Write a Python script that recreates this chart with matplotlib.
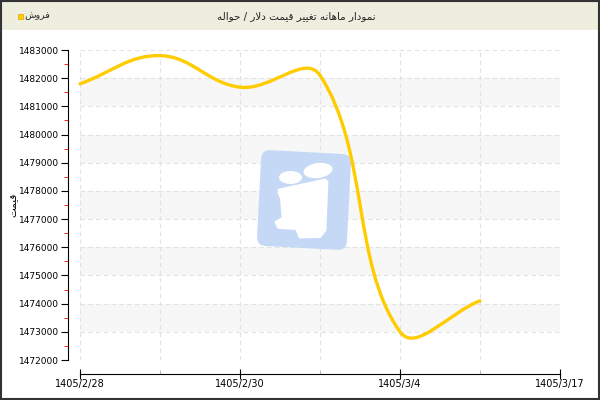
import numpy as np
import matplotlib
matplotlib.use('Agg')
import matplotlib.pyplot as plt
from matplotlib.path import Path
from matplotlib.patches import PathPatch, Rectangle, FancyBboxPatch, Ellipse, Polygon
from matplotlib.transforms import Affine2D
from matplotlib.ticker import MultipleLocator, FixedLocator

# داده ها
dates = ['1405/2/28', '1405/2/29', '1405/2/30', '1405/3/1', '1405/3/4', '1405/3/10', '1405/3/17']
tick_labels = ['1405/2/28', '1405/2/30', '1405/3/4', '1405/3/17']
sell = [1481800, 1482800, 1481680, 1482100, 1473000, 1474100]

title = 'نمودار ماهانه تغییر قیمت دلار / حواله'
legend_label = 'فروش'
y_label = 'قیمت'

line_color = '#FFCC00'

# شکل دادن حروف فارسی (matplotlib خودش حروف را به هم نمی چسباند)
forms = {
    'ا': ('\uFE8D', '\uFE8E'),
    'د': ('\uFEA9', '\uFEAA'),
    'ر': ('\uFEAD', '\uFEAE'),
    'و': ('\uFEED', '\uFEEE'),
    'ن': ('\uFEE5', '\uFEE6', '\uFEE7', '\uFEE8'),
    'م': ('\uFEE1', '\uFEE2', '\uFEE3', '\uFEE4'),
    'ه': ('\uFEE9', '\uFEEA', '\uFEEB', '\uFEEC'),
    'ت': ('\uFE95', '\uFE96', '\uFE97', '\uFE98'),
    'غ': ('\uFECD', '\uFECE', '\uFECF', '\uFED0'),
    'ی': ('\uFBFC', '\uFBFD', '\uFBFE', '\uFBFF'),
    'ق': ('\uFED5', '\uFED6', '\uFED7', '\uFED8'),
    'ل': ('\uFEDD', '\uFEDE', '\uFEDF', '\uFEE0'),
    'ح': ('\uFEA1', '\uFEA2', '\uFEA3', '\uFEA4'),
    'ف': ('\uFED1', '\uFED2', '\uFED3', '\uFED4'),
    'ش': ('\uFEB5', '\uFEB6', '\uFEB7', '\uFEB8'),
}


def fa(text):
    out = []
    i = 0
    while i < len(text):
        c = text[i]
        if c not in forms:
            out.append(c)
            i += 1
            continue
        prev = text[i - 1] if i > 0 else ''
        join_prev = prev in forms and len(forms[prev]) == 4
        if c == 'ل' and i + 1 < len(text) and text[i + 1] == 'ا':
            out.append('\uFEFC' if join_prev else '\uFEFB')
            i += 2
            continue
        nxt = text[i + 1] if i + 1 < len(text) else ''
        join_next = len(forms[c]) == 4 and nxt in forms
        f = forms[c]
        if join_prev and join_next:
            out.append(f[3])
        elif join_prev:
            out.append(f[1])
        elif join_next:
            out.append(f[2])
        else:
            out.append(f[0])
        i += 1
    return ''.join(out)[::-1]


plt.rcParams['font.family'] = ['DejaVu Sans']

fig = plt.figure(figsize=(6, 4), dpi=100)
ax = fig.add_axes([80 / 600, 40 / 400, 480 / 600, 310 / 400])

# نوار عنوان و قاب
fig.patches.append(Rectangle((0, 1 - 30 / 400), 1, 30 / 400, transform=fig.transFigure,
                             fc='#EEEEDF', ec='none', zorder=0))
fig.patches.append(Rectangle((0.001, 0.002), 0.997, 0.996, transform=fig.transFigure,
                             fc='none', ec='#333333', lw=1.5, zorder=10))
fig.text(296 / 600, 1 - 16 / 400, fa(title), ha='center', va='center', fontsize=7.5, color='#222222')
fig.patches.append(Rectangle((17.5 / 600, 1 - 18.5 / 400), 5 / 600, 5 / 400, transform=fig.transFigure,
                             fc=line_color, ec='#E0A800', lw=0.5))
fig.text(24 / 600, 1 - 16 / 400, fa(legend_label), ha='left', va='center', fontsize=6.8, color='#222222')
fig.text(13 / 600, 1 - 205 / 400, fa(y_label), ha='center', va='center', rotation=90, fontsize=7.5)

ymin, ymax = 1472000, 1483000
xmin, xmax = 0, len(dates) - 1
ax.set_xlim(xmin, xmax)
ax.set_ylim(ymin, ymax)

# نوارهای خاکستری
for b in range(ymin + 1000, ymax, 2000):
    ax.axhspan(b, b + 1000, color='#F7F7F7', lw=0, zorder=0)

ax.yaxis.set_major_locator(MultipleLocator(1000))
ax.yaxis.set_minor_locator(MultipleLocator(500))
ax.xaxis.set_major_locator(FixedLocator(range(0, len(dates), 2)))
ax.xaxis.set_minor_locator(FixedLocator(range(1, len(dates), 2)))
ax.set_xticklabels(tick_labels)
ax.yaxis.set_major_formatter(matplotlib.ticker.FuncFormatter(lambda v, p: '%d' % v))

ax.grid(True, which='both', axis='x', color='#E2E2E2', ls=(0, (4, 3)), lw=0.8, zorder=0.5)
ax.grid(True, which='major', axis='y', color='#E2E2E2', ls=(0, (4, 3)), lw=0.8, zorder=0.5)
ax.set_axisbelow(True)

for s in ['top', 'right']:
    ax.spines[s].set_visible(False)
ax.spines['left'].set_position(('outward', 9))
ax.spines['bottom'].set_position(('outward', 10))
ax.tick_params(axis='y', which='major', direction='out', length=5, labelsize=6.5, pad=1)
ax.tick_params(axis='y', which='minor', direction='out', length=3, color='red')
ax.tick_params(axis='x', which='major', direction='inout', length=7, labelsize=7, pad=0)
ax.tick_params(axis='x', which='minor', direction='in', length=3, color='#AAAAAA')

# لوگوی محو وسط نمودار
pix = Affine2D().scale(1 / 600, -1 / 400).translate(0, 1) + fig.transFigure
rot = Affine2D().rotate_deg_around(304, 200, 3)
logo = FancyBboxPatch((259, 152), 90, 96, boxstyle='round,pad=0,rounding_size=9',
                      transform=rot + pix, fc='#C5D9F6', ec='none', zorder=1.5)
ax.add_patch(logo)
ax.add_patch(Ellipse((290.5, 177.5), 23, 13, transform=pix, fc='white', ec='none', zorder=1.6))
ax.add_patch(Ellipse((318, 170.5), 29, 15, angle=-8, transform=pix, fc='white', ec='none', zorder=1.6))
body = [(279, 190), (325, 180), (327, 182), (325, 230), (320, 236.5), (300, 237), (296.5, 228.5),
        (278.5, 227.5), (276, 222), (283, 218.5), (281.5, 198.5), (279, 193)]
ax.add_patch(Polygon(body, closed=True, transform=pix, fc='white', ec='white', lw=2,
                     joinstyle='round', zorder=1.6))

# خط منحنی (مثل spline در Chart.js با tension=0.4)
bb = ax.get_position()
W, H = bb.width * 600, bb.height * 400
xs = np.arange(len(sell), dtype=float)
ys = np.array(sell, dtype=float)
pts = np.column_stack([(xs - xmin) / (xmax - xmin) * W, (ys - ymin) / (ymax - ymin) * H])
t = 0.4
cp_prev, cp_next = [], []
for i in range(len(pts)):
    cur = pts[i]
    prv = pts[i - 1] if i > 0 else cur
    nxt = pts[i + 1] if i < len(pts) - 1 else cur
    d01 = np.hypot(*(cur - prv))
    d12 = np.hypot(*(nxt - cur))
    tot = d01 + d12
    s01 = d01 / tot if tot else 0
    s12 = d12 / tot if tot else 0
    cp_prev.append(cur - t * s01 * (nxt - prv))
    cp_next.append(cur + t * s12 * (nxt - prv))
verts = [pts[0]]
codes = [Path.MOVETO]
for i in range(len(pts) - 1):
    verts += [cp_next[i], cp_prev[i + 1], pts[i + 1]]
    codes += [Path.CURVE4] * 3
verts = np.array(verts)
verts[:, 0] = verts[:, 0] / W * (xmax - xmin) + xmin
verts[:, 1] = verts[:, 1] / H * (ymax - ymin) + ymin
ax.add_patch(PathPatch(Path(verts, codes), fc='none', ec=line_color, lw=2.4,
                       capstyle='round', joinstyle='round', zorder=3, clip_on=False))

fig.savefig('out.png', dpi=100)
